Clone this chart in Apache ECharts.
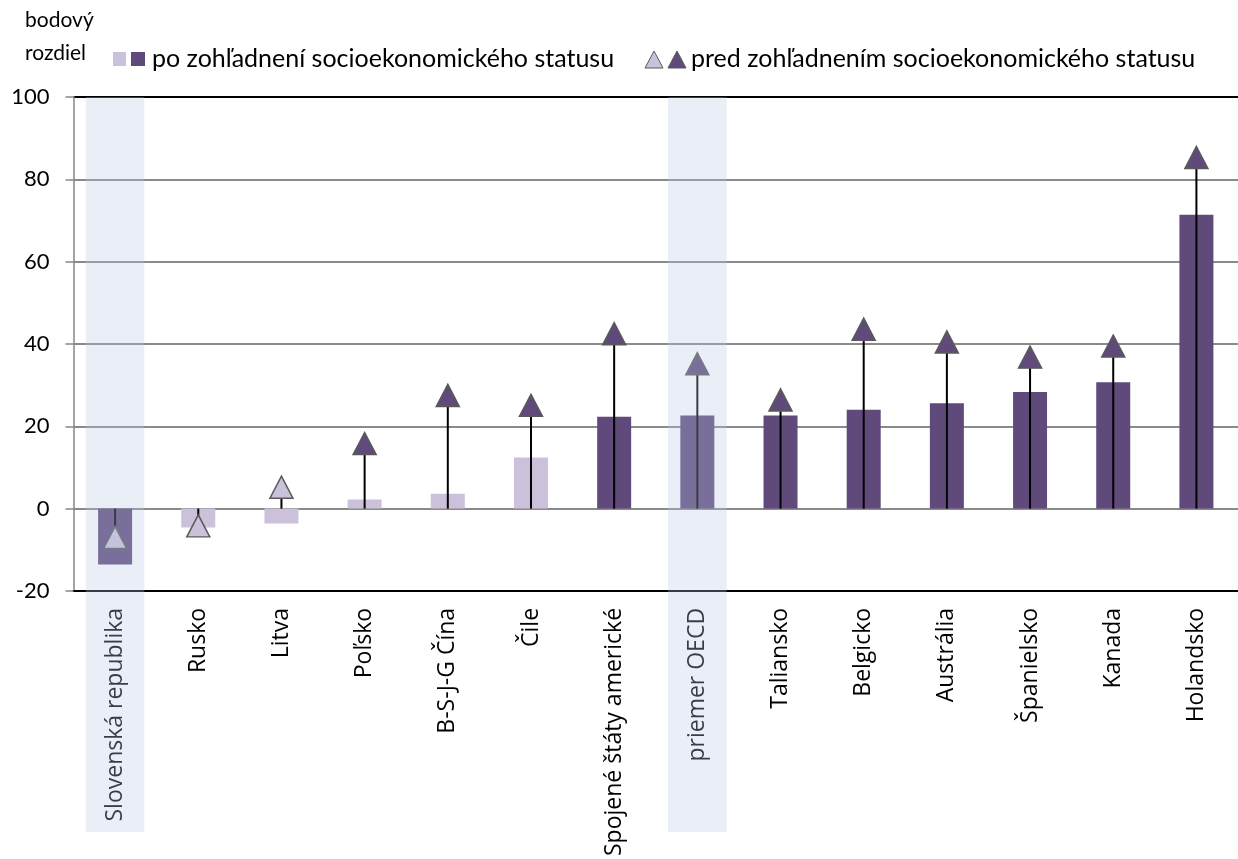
<!DOCTYPE html>
<html><head><meta charset="utf-8">
<script src="https://cdn.jsdelivr.net/npm/echarts@6/dist/echarts.min.js"></script>
<style>html,body{margin:0;padding:0;background:#fff}#c{width:1238px;height:859px}</style>
</head><body><div id="c"></div>
<script>
const categories = ['Slovenská republika','Rusko','Litva','Poľsko','B-S-J-G Čína','Čile','Spojené štáty americké','priemer OECD','Taliansko','Belgicko','Austrália','Španielsko','Kanada','Holandsko'];
const afterSES = [-13.6,-4.6,-3.6,2.2,3.6,12.4,22.3,22.6,22.6,24.0,25.6,28.3,30.7,71.4];
const beforeSES = [-7.0,-4.2,5.2,15.8,27.5,25.1,42.5,35.2,26.4,43.6,40.5,36.8,39.5,85.3];
const afterSignificant = [1,0,0,0,0,0,1,1,1,1,1,1,1,1];
const beforeSignificant = [0,0,0,1,1,1,1,1,1,1,1,1,1,1];
const highlighted = ['Slovenská republika','priemer OECD'];
const yMin = -20, yMax = 100, yStep = 20;
const yAxisName = ['bodový','rozdiel'];
const legendAfter = 'po zohľadnení socioekonomického statusu';
const legendBefore = 'pred zohľadnením socioekonomického statusu';

const LIGHT = '#ccc1da', DARK = '#604a7b';
const chart = echarts.init(document.getElementById('c'));

const nLines = (yMax - yMin) / yStep + 1;
const splitColors = [];
for (let i = 0; i < nLines; i++) splitColors.push(i === 0 || i === nLines - 1 ? '#000' : '#8a8a8a');

const option = {
  animation: false,
  backgroundColor: '#fff',
  grid: { left: 73.5, right: -10, top: 97, bottom: 266, containLabel: false },
  xAxis: {
    type: 'category', data: categories,
    axisLine: { show: true, onZero: false, lineStyle: { color: '#000', width: 2 } },
    axisTick: { show: false },
    splitLine: { show: false },
    axisLabel: { interval: 0, rotate: 90, margin: 17, fontFamily: 'Open Sans', fontSize: 23, color: '#000' }
  },
  yAxis: {
    type: 'value', min: yMin, max: yMax, interval: yStep,
    axisLine: { show: true, lineStyle: { color: '#868686', width: 1.5 } },
    axisTick: { show: true, length: 8, lineStyle: { color: '#868686', width: 1.5 } },
    axisLabel: { fontFamily: 'Lato', fontSize: 22, color: '#000', margin: 24 },
    splitLine: { show: true, lineStyle: { color: splitColors, width: 1.8 } }
  },
  series: [
    {
      type: 'bar', barWidth: 34, z: 2,
      data: afterSES.map((v, i) => ({ value: v, itemStyle: { color: afterSignificant[i] ? DARK : LIGHT } }))
    },
    {
      type: 'custom', z: 3,
      data: beforeSES.map((v, i) => [i, v]),
      encode: { x: 0, y: 1 },
      renderItem: function (params, api) {
        const i = api.value(0), v = api.value(1);
        const p0 = api.coord([i, 0]), p1 = api.coord([i, v]);
        return { type: 'line', shape: { x1: p0[0], y1: p0[1], x2: p1[0], y2: p1[1] }, style: { stroke: '#000', lineWidth: 2 } };
      }
    },
    {
      type: 'scatter', z: 4, symbol: 'triangle', symbolSize: [23, 22],
      itemStyle: { opacity: 1 },
      data: beforeSES.map((v, i) => ({ value: v, itemStyle: { opacity: 1, color: beforeSignificant[i] ? DARK : LIGHT, borderColor: '#595959', borderWidth: 1.5 } }))
    }
  ]
};
chart.setOption(option);

const gfx = [
  { type: 'text', left: 25, top: 10, style: { text: yAxisName[0], font: '21px Lato', fill: '#000' } },
  { type: 'text', left: 25, top: 43, style: { text: yAxisName[1], font: '21px Lato', fill: '#000' } },
  { type: 'rect', shape: { x: 113, y: 52, width: 13, height: 14 }, style: { fill: LIGHT } },
  { type: 'rect', shape: { x: 131, y: 52, width: 14, height: 14 }, style: { fill: DARK } },
  { type: 'text', left: 152, top: 46, style: { text: legendAfter, font: '25px Lato', fill: '#000' } },
  { type: 'polygon', shape: { points: [[645, 68], [654, 51], [663, 68]] }, style: { fill: LIGHT, stroke: '#595959', lineWidth: 1 } },
  { type: 'polygon', shape: { points: [[668, 68], [677, 51], [686, 68]] }, style: { fill: DARK, stroke: '#595959', lineWidth: 1 } },
  { type: 'text', left: 691, top: 46, style: { text: legendBefore, font: '25px Lato', fill: '#000' } }
];
const bw = chart.convertToPixel({ xAxisIndex: 0 }, categories[1]) - chart.convertToPixel({ xAxisIndex: 0 }, categories[0]);
highlighted.forEach(name => {
  const cx = chart.convertToPixel({ xAxisIndex: 0 }, name);
  const top = chart.convertToPixel({ yAxisIndex: 0 }, yMax);
  gfx.push({ type: 'rect', z: 100, shape: { x: cx - bw * 0.352, y: top, width: bw * 0.704, height: 832 - top }, style: { fill: 'rgba(182,198,228,0.3)' } });
});
chart.setOption({ graphic: { elements: gfx } });
</script>
</body></html>
